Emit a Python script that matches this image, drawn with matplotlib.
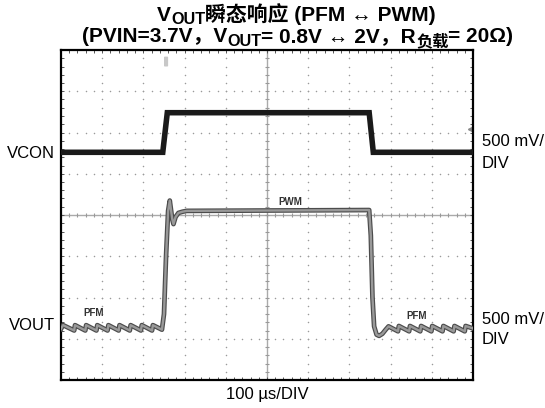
import numpy as np
import matplotlib
matplotlib.use("Agg")
import matplotlib.pyplot as plt
from matplotlib.transforms import IdentityTransform
from matplotlib.patches import FancyBboxPatch

plt.rcParams['font.family'] = ['Liberation Sans', 'Noto Sans CJK SC', 'DejaVu Sans']

# ---- data (in screen divisions: x 0..10, y 0..8) ----
vcon_x = [0.00, 2.47, 2.58, 7.48, 7.58, 10.00]
vcon_y = [5.52, 5.52, 6.48, 6.48, 5.52, 5.52]

vout_x = [0.00, 0.05, 0.32, 0.34, 0.59, 0.61, 0.86, 0.88, 1.13, 1.15, 1.40, 1.42,
          1.67, 1.69, 1.94, 1.96, 2.21, 2.23, 2.45,
          2.50, 2.55, 2.60, 2.64, 2.70, 2.73, 2.78, 2.85, 2.95, 3.05,
          7.48, 7.52, 7.56, 7.60, 7.66, 7.72, 7.80, 7.88,
          7.95, 8.18, 8.20, 8.45, 8.47, 8.72, 8.74, 8.99, 9.01, 9.26, 9.28,
          9.53, 9.55, 9.80, 9.82, 10.00]
vout_y = [1.24, 1.33, 1.20, 1.33, 1.20, 1.33, 1.20, 1.33, 1.20, 1.33, 1.20, 1.33,
          1.20, 1.33, 1.20, 1.33, 1.20, 1.33, 1.22,
          1.60, 3.00, 4.10, 4.35, 3.90, 3.78, 3.95, 4.05, 4.08, 4.10,
          4.12, 3.50, 2.00, 1.30, 1.10, 1.07, 1.12, 1.22,
          1.30, 1.18, 1.31, 1.18, 1.31, 1.18, 1.31, 1.18, 1.31, 1.18, 1.31,
          1.18, 1.31, 1.18, 1.31, 1.25]

W, H = 545, 408
fig = plt.figure(figsize=(W / 100, H / 100), dpi=100)
L, R, T, B = 61, 473, 50, 380
ax = fig.add_axes([L / W, (H - B) / H, (R - L) / W, (B - T) / H])
ax.set_xlim(0, 10)
ax.set_ylim(0, 8)

# dotted graticule
xs = np.arange(0, 10.001, 0.2)
ys = np.arange(0, 8.001, 0.2)
for gx in range(1, 10):
    if gx == 5:
        continue
    ax.scatter(np.full_like(ys, gx), ys, s=1.2, color='#9a9a9a', lw=0, zorder=1)
for gy in range(1, 8):
    if gy == 4:
        continue
    ax.scatter(xs, np.full_like(xs, gy), s=1.2, color='#9a9a9a', lw=0, zorder=1)
# centre lines with ticks
ax.axvline(5, color='#aaaaaa', lw=1.0, zorder=1)
ax.axhline(4, color='#aaaaaa', lw=1.0, zorder=1)
ax.vlines(xs, 4 - 0.05, 4 + 0.05, color='#999999', lw=0.8, zorder=1)
ax.hlines(ys, 5 - 0.05, 5 + 0.05, color='#999999', lw=0.8, zorder=1)

# traces
ax.plot(vcon_x, vcon_y, color='#1a1a1a', lw=4.0, solid_joinstyle='miter', zorder=3)
ax.plot(vout_x, vout_y, color='#4c4c4c', lw=3.4, zorder=3)
ax.plot(vout_x, vout_y, color='#999999', lw=1.7, zorder=4)

# mode labels
ax.text(5.56, 4.2, 'PWM', fontsize=7, fontweight='bold', color='#333333', ha='center', va='bottom')
ax.text(0.78, 1.5, 'PFM', fontsize=7, fontweight='bold', color='#333333', ha='center', va='bottom')
ax.text(8.62, 1.42, 'PFM', fontsize=7, fontweight='bold', color='#333333', ha='center', va='bottom')

# trigger marker
ax.add_patch(FancyBboxPatch((2.52, 7.62), 0.06, 0.2, boxstyle='round,pad=0.02',
                            fc='#c8c8c8', ec='none', zorder=2, clip_on=False))
ax.plot([9.93], [6.08], marker='<', ms=3, color='#888888', zorder=2, clip_on=False)

# frame & ticks
for s in ax.spines.values():
    s.set_linewidth(1.6)
    s.set_color('black')
ax.set_xticks(xs)
ax.set_yticks(ys)
ax.tick_params(which='both', direction='in', length=2.5, width=0.7,
               top=True, right=True, labelbottom=False, labelleft=False,
               color='#555555')

# side labels
FS = 12
fig.text(55 / W, 1 - 153 / H, 'VCON', fontsize=FS, ha='right', va='center')
fig.text(55 / W, 1 - 325 / H, 'VOUT', fontsize=FS, ha='right', va='center')
for yc in (142, 319):
    fig.text(482 / W, 1 - yc / H, '500 mV/', fontsize=FS, ha='left', va='center')
    fig.text(482 / W, 1 - (yc + 21) / H, 'DIV', fontsize=FS, ha='left', va='center')
fig.text(267 / W, 1 - 395 / H, '100 µs/DIV', fontsize=FS, ha='center', va='center')

# rich titles
renderer = fig.canvas.get_renderer()


def rich(x_px, base_from_top, parts, size, sub_drop):
    x = x_px
    y = H - base_from_top
    for txt, sub in parts:
        fs = size * 0.78 if sub else size
        dy = -sub_drop * size * 100 / 72 if sub else 0
        t = fig.text(x, y + dy, txt, fontsize=fs, fontweight='bold',
                     transform=IdentityTransform(), ha='left', va='baseline')
        w = t.get_window_extent(renderer).width
        x += w


rich(157, 21, [('V', 0), ('OUT', 1), ('瞬态响应 (PFM ↔ PWM)', 0)], 15, 0.15)
rich(82, 42, [('(PVIN=3.7V，V', 0), ('OUT', 1), ('= 0.8V ↔ 2V，R', 0),
              ('负载', 1), ('= 20Ω)', 0)], 15, 0.19)

fig.savefig('out.png', dpi=100)
